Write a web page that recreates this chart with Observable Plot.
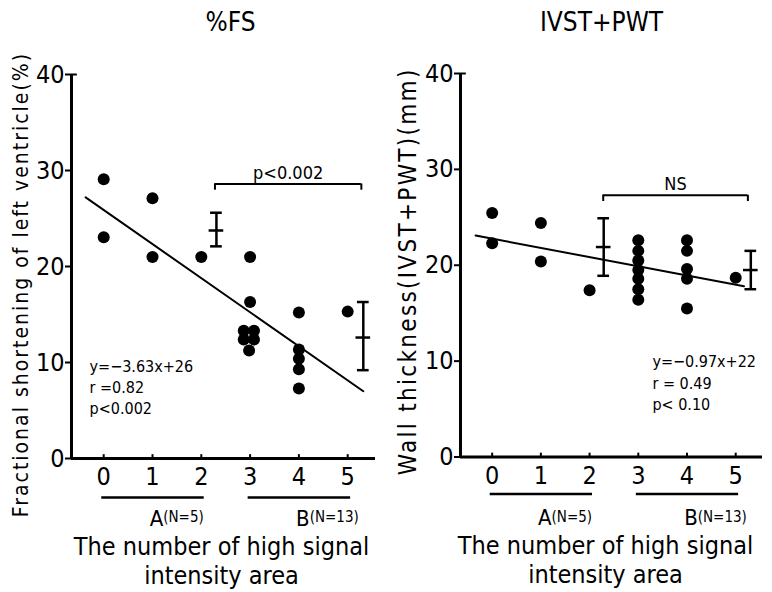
<!DOCTYPE html>
<html><head><meta charset="utf-8">
<script src="https://cdn.jsdelivr.net/npm/d3@7"></script>
<script src="https://cdn.jsdelivr.net/npm/@observablehq/plot@0.6"></script>
<style>
body{margin:0;background:#fff;}
#wrap{position:relative;width:772px;height:592px;overflow:hidden;background:#fff;}
#wrap svg{position:absolute;top:0;}
</style></head><body><div id="wrap"></div>
<script>
// ---- shared categories / ticks ----
const xTicks = [0, 1, 2, 3, 4, 5];
const yTicks = [0, 10, 20, 30, 40];
const groupNames = ["A", "B"];
const groupN = [5, 13];
const groupFrom = [0, 3];
const groupTo = [2, 5];
const xTitle = "The number of high signal\nintensity area";

// ---- %FS panel ----
const fsTitle = "%FS";
const fsYLabel = "Fractional shortening of left ventricle(%)";
const fsX = [0, 0, 1, 1, 2, 3, 3, 2.87, 3.08, 2.87, 3.08, 2.98, 4, 4, 4, 4, 4, 5];
const fsY = [29.1, 23.05, 27.1, 21.0, 21.0, 21.0, 16.3, 13.3, 13.3, 12.4, 12.4, 11.25, 15.2, 11.35, 10.4, 9.3, 7.3, 15.3];
const fsLineX = [-0.37, 5.32];
const fsLineY = [27.2, 7.0];
const fsErrX = [2.31, 5.32];
const fsMean = [23.75, 12.6];
const fsLow = [22.1, 9.2];
const fsHigh = [25.6, 16.3];
const fsBracketFrom = 2.28, fsBracketTo = 5.28, fsBracketY = 28.6;
const fsBracketLabel = "p<0.002";
const fsStats = ["y=\u22123.63x+26", "r =0.82", "p<0.002"];

// ---- IVST+PWT panel ----
const wtTitle = "IVST+PWT";
const wtYLabel = "Wall thickness(IVST+PWT)(mm)";
const wtX = [0, 0, 1, 1, 2, 3, 3, 3, 3, 3, 3, 3, 4, 4, 4, 4, 4, 5];
const wtY = [25.46, 22.3, 24.4, 20.4, 17.4, 22.6, 21.5, 20.5, 19.5, 18.6, 17.5, 16.4, 22.6, 21.5, 19.6, 18.6, 15.5, 18.7];
const wtLineX = [-0.34, 5.17];
const wtLineY = [23.1, 17.8];
const wtErrX = [2.29, 5.31];
const wtMean = [21.9, 19.5];
const wtLow = [18.9, 17.5];
const wtHigh = [24.9, 21.5];
const wtBracketFrom = 2.28, wtBracketTo = 5.25, wtBracketY = 27.3;
const wtBracketLabel = "NS";
const wtStats = ["y=\u22120.97x+22", "r = 0.49", "p< 0.10"];

const FONT = '"DejaVu Sans Condensed","Liberation Sans Narrow","DejaVu Sans",sans-serif';

function panel(c) {
  const pts = c.x.map((x, i) => ({x, y: c.y[i]}));
  const line = c.lineX.map((x, i) => ({x, y: c.lineY[i]}));
  const err = c.errX.map((x, i) => ({x, mean: c.mean[i], lo: c.lo[i], hi: c.hi[i]}));
  const groups = groupNames.map((g, i) => ({g, n: "(N=" + groupN[i] + ")", from: groupFrom[i], to: groupTo[i]}));
  const cap = 0.12, meanCap = 0.15;
  const H = 592;
  const svg = Plot.plot({
    width: 386, height: H,
    marginLeft: c.ml, marginRight: c.mr, marginTop: c.top, marginBottom: H - c.bottom,
    x: {domain: c.xDomain},
    y: {domain: [0, 40]},
    style: {fontFamily: FONT, color: "#000", background: "transparent", overflow: "visible"},
    marks: [
      Plot.axisY(yTicks, {tickSize: 6, tickPadding: 1, fontSize: 25, strokeWidth: 2, label: null}),
      Plot.axisX(xTicks, {tickSize: 0, tickPadding: 9, fontSize: 25, label: null}),
      Plot.ruleX(xTicks, {y1: 0, y2: 0.4, strokeWidth: 2}),
      Plot.ruleX([c.xDomain[0]], {y1: 0, y2: 40, strokeWidth: 3}),
      Plot.ruleY([40], {x1: c.xDomain[0], x2: c.xDomain[0] + 0.12, strokeWidth: 2}),
      Plot.ruleY([0], {strokeWidth: 3}),
      Plot.line(line, {x: "x", y: "y", strokeWidth: 2}),
      Plot.dot(pts, {x: "x", y: "y", r: 6, fill: "#000", stroke: null}),
      Plot.ruleX(err, {x: "x", y1: "lo", y2: "hi", strokeWidth: 2.5}),
      Plot.ruleY(err, {y: "hi", x1: d => d.x - cap, x2: d => d.x + cap, strokeWidth: 2.5}),
      Plot.ruleY(err, {y: "lo", x1: d => d.x - cap, x2: d => d.x + cap, strokeWidth: 2.5}),
      Plot.ruleY(err, {y: "mean", x1: d => d.x - meanCap, x2: d => d.x + meanCap, strokeWidth: 2.5}),
      Plot.ruleY([c.brY], {x1: c.brFrom, x2: c.brTo, strokeWidth: 2}),
      Plot.ruleX([c.brFrom, c.brTo], {y1: c.brY - 0.65, y2: c.brY, strokeWidth: 2}),
      Plot.text([c.brLabel], {x: (c.brFrom + c.brTo) / 2, y: c.brY, dy: -11, fontSize: 18, lineAnchor: "middle"}),
      Plot.text(c.stats, {x: () => c.statX, y: (d, i) => c.statY - i * c.statStep, text: d => d, textAnchor: "start", lineAnchor: "middle", fontSize: c.statSize}),
      Plot.ruleY(groups, {y: () => 0, x1: d => d.from - 0.04, x2: d => d.to + 0.06, dy: c.ulDy, strokeWidth: 2.5}),
      Plot.text(groups, {x: d => d.from + 1.22, y: () => 0, text: "g", textAnchor: "end", lineAnchor: "middle", dy: c.grDy, fontSize: 22}),
      Plot.text(groups, {x: d => d.from + 1.22, y: () => 0, text: "n", textAnchor: "start", lineAnchor: "middle", dy: c.grDy - 1, fontSize: 15}),
      Plot.text([xTitle], {frameAnchor: "bottom", dx: c.xtDx, dy: c.xtDy, lineAnchor: "top", lineHeight: 1.15, fontSize: 25}),
      Plot.text([c.title], {frameAnchor: "top", dx: c.tDx, dy: c.tDy, lineAnchor: "middle", fontSize: 26}),
      Plot.text([c.ylabel], {frameAnchor: "left", textAnchor: "middle", rotate: -90, dx: c.ylDx, dy: c.ylDy, lineAnchor: "middle", fontSize: c.ylSize})
    ]
  });
  d3.select(svg).selectAll("text").filter(function () { return this.textContent === c.ylabel; })
    .attr("letter-spacing", c.ylSpacing);
  return svg;
}

const left = panel({
  x: fsX, y: fsY, lineX: fsLineX, lineY: fsLineY,
  errX: fsErrX, mean: fsMean, lo: fsLow, hi: fsHigh,
  brFrom: fsBracketFrom, brTo: fsBracketTo, brY: fsBracketY, brLabel: fsBracketLabel,
  stats: fsStats, statX: -0.29, statY: 9.5, statStep: 2.15, statSize: 16,
  title: fsTitle, ylabel: fsYLabel,
  ml: 71, mr: 11, top: 74, bottom: 458, xDomain: [-0.66, 5.57],
  ulDy: 39, grDy: 60, xtDx: -2, xtDy: 76, tDx: 7, tDy: -52, ylDx: -50, ylDy: 18, ylSize: 21, ylSpacing: 2
});
const right = panel({
  x: wtX, y: wtY, lineX: wtLineX, lineY: wtLineY,
  errX: wtErrX, mean: wtMean, lo: wtLow, hi: wtHigh,
  brFrom: wtBracketFrom, brTo: wtBracketTo, brY: wtBracketY, brLabel: wtBracketLabel,
  stats: wtStats, statX: 3.29, statY: 9.9, statStep: 2.25, statSize: 16,
  title: wtTitle, ylabel: wtYLabel,
  ml: 74, mr: 10, top: 73, bottom: 456.5, xDomain: [-0.65, 5.55],
  ulDy: 37, grDy: 61, xtDx: -6, xtDy: 77, tDx: -10, tDy: -51, ylDx: -52, ylDy: 6, ylSize: 24, ylSpacing: 2.3
});
left.style.left = "0px";
right.style.left = "386px";
document.getElementById("wrap").append(left, right);
</script>
</body></html>
